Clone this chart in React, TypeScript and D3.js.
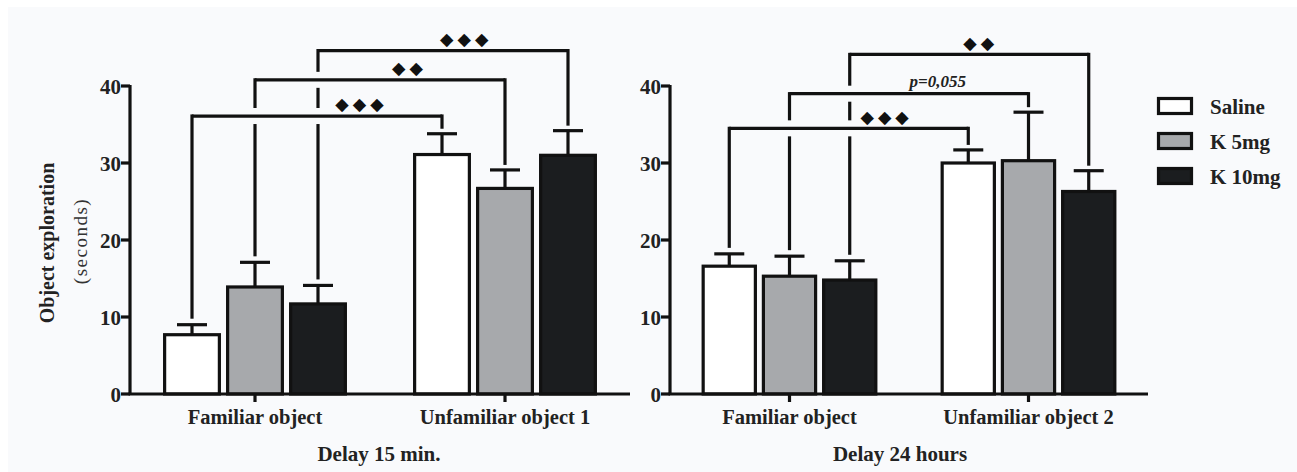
import React from "react";
import * as d3 from "d3";

// ---- data ----
const groups = ["Saline", "K 5mg", "K 10mg"];
const fills = ["#ffffff", "#a7a9ac", "#1b1d1f"];

const panel1Categories = ["Familiar object", "Unfamiliar object 1"];
const panel1Means = [
  [7.7, 13.9, 11.7],
  [31.1, 26.7, 31.0],
];
const panel1Sem = [
  [1.3, 3.2, 2.4],
  [2.7, 2.4, 3.2],
];
const panel1Title = "Delay 15 min.";
const panel1Brackets = [
  { group: 0, level: 36.1, label: "◆◆◆", frac: 0.67 },
  { group: 1, level: 40.8, label: "◆◆", frac: 0.61 },
  { group: 2, level: 44.6, label: "◆◆◆", frac: 0.585 },
];

const panel2Categories = ["Familiar object", "Unfamiliar object 2"];
const panel2Means = [
  [16.6, 15.3, 14.8],
  [30.0, 30.3, 26.3],
];
const panel2Sem = [
  [1.6, 2.6, 2.5],
  [1.7, 6.3, 2.7],
];
const panel2Title = "Delay 24 hours";
const panel2Brackets = [
  { group: 0, level: 34.5, label: "◆◆◆", frac: 0.65 },
  { group: 1, level: 39.0, label: "p=0,055", frac: 0.62 },
  { group: 2, level: 44.1, label: "◆◆", frac: 0.54 },
];

const yTicks = [0, 10, 20, 30, 40];
const yLabel = "Object exploration";
const yUnit = "(seconds)";

// ---- layout ----
const W = 1297;
const H = 472;
const SERIF = "'Liberation Serif', 'Times New Roman', serif";
const SW = 3.2;

type Bracket = { group: number; level: number; label: string; frac: number };

function Panel(props: {
  x0: number;
  x1: number;
  categories: string[];
  means: number[][];
  sem: number[][];
  brackets: Bracket[];
  title: string;
  titleX: number;
}) {
  const { x0, x1, categories, means, sem, brackets, title, titleX } = props;
  const y = d3.scaleLinear().domain([0, 40]).range([394, 86]);
  const x = d3.scalePoint<string>().domain(categories).range([x0, x1]).padding(0.5);
  const step = x.step();
  const pitch = step * 0.252;
  const inner = d3
    .scaleBand<string>()
    .domain(groups)
    .range([-1.5 * pitch, 1.5 * pitch])
    .paddingInner(0.08)
    .paddingOuter(0.04);
  const bw = inner.bandwidth();
  const cx = (ci: number, gi: number) =>
    (x(categories[ci]) as number) + (inner(groups[gi]) as number) + bw / 2;

  const br = brackets.map((b) => {
    const xa = cx(0, b.group);
    const xb = cx(1, b.group);
    const yh = y(b.level);
    const ya = y(means[0][b.group] + sem[0][b.group]) - 6;
    const yb = y(means[1][b.group] + sem[1][b.group]) - 5;
    return { ...b, xa, xb, yh, ya, yb };
  });
  const gap = 8;
  const legSegments = (xv: number, yTop: number, yBot: number, self: number) => {
    const cuts = br
      .filter((o, i) => i !== self && o.xa < xv && o.xb > xv && o.yh > yTop && o.yh < yBot)
      .map((o) => o.yh)
      .sort((a, b) => a - b);
    const segs: [number, number][] = [];
    let cur = yTop;
    cuts.forEach((c) => {
      segs.push([cur, c - gap]);
      cur = c + gap;
    });
    segs.push([cur, yBot]);
    return segs;
  };

  return (
    <g>
      {categories.map((c, ci) =>
        groups.map((g, gi) => {
          const m = means[ci][gi];
          const top = y(m);
          const cxx = cx(ci, gi);
          const et = y(m + sem[ci][gi]);
          return (
            <g key={c + g}>
              <rect
                x={cxx - bw / 2 + SW / 2}
                y={top}
                width={bw - SW}
                height={y(0) - top}
                fill={fills[gi]}
                stroke="#111"
                strokeWidth={SW}
              />
              <line x1={cxx} x2={cxx} y1={top} y2={et} stroke="#111" strokeWidth={SW} />
              <line x1={cxx - 15} x2={cxx + 15} y1={et} y2={et} stroke="#111" strokeWidth={SW} />
            </g>
          );
        })
      )}
      <line x1={x0} x2={x0} y1={y(40) - 1} y2={y(0)} stroke="#111" strokeWidth={SW} />
      <line x1={x0 - 1.5} x2={x1} y1={y(0)} y2={y(0)} stroke="#111" strokeWidth={SW} />
      {yTicks.map((t) => (
        <g key={t}>
          <line x1={x0 - 9} x2={x0} y1={y(t)} y2={y(t)} stroke="#111" strokeWidth={SW} />
          <text
            x={x0 - 9}
            y={y(t)}
            dy="0.36em"
            textAnchor="end"
            fontFamily={SERIF}
            fontWeight="bold"
            fontSize={21}
            fill="#222"
          >
            {t}
          </text>
        </g>
      ))}
      {categories.map((c) => (
        <g key={c}>
          <line
            x1={x(c)}
            x2={x(c)}
            y1={y(0)}
            y2={y(0) + 8}
            stroke="#111"
            strokeWidth={SW}
          />
          <text
            x={x(c)}
            y={424}
            textAnchor="middle"
            fontFamily={SERIF}
            fontWeight="bold"
            fontSize={20.5}
            fill="#222"
          >
            {c}
          </text>
        </g>
      ))}
      <text
        x={titleX}
        y={461}
        textAnchor="middle"
        fontFamily={SERIF}
        fontWeight="bold"
        fontSize={21}
        fill="#222"
      >
        {title}
      </text>
      {br.map((b, i) => (
        <g key={"b" + i}>
          <line x1={b.xa} x2={b.xb} y1={b.yh} y2={b.yh} stroke="#111" strokeWidth={SW} />
          {legSegments(b.xa, b.yh - SW / 2, b.ya, i).map((s, k) => (
            <line key={"l" + k} x1={b.xa} x2={b.xa} y1={s[0]} y2={s[1]} stroke="#111" strokeWidth={SW} />
          ))}
          {legSegments(b.xb, b.yh - SW / 2, b.yb, i).map((s, k) => (
            <line key={"r" + k} x1={b.xb} x2={b.xb} y1={s[0]} y2={s[1]} stroke="#111" strokeWidth={SW} />
          ))}
          {b.label.startsWith("◆") ? (
            <text
              x={b.xa + (b.xb - b.xa) * b.frac + 2}
              y={b.yh - 12}
              dy="0.36em"
              textAnchor="middle"
              fontFamily="'DejaVu Sans', sans-serif"
              fontSize={17.5}
              letterSpacing={4}
              fill="#111"
            >
              {b.label}
            </text>
          ) : (
            <text
              x={b.xa + (b.xb - b.xa) * b.frac}
              y={b.yh - 7}
              textAnchor="middle"
              fontFamily={SERIF}
              fontWeight="bold"
              fontStyle="italic"
              fontSize={17}
              fill="#222"
            >
              {b.label}
            </text>
          )}
        </g>
      ))}
    </g>
  );
}

export default function App() {
  const legendY = d3.scalePoint<string>().domain(groups).range([106, 176]);
  return (
    <svg
      width={W}
      height={H}
      style={{ position: "absolute", left: 0, top: 0, display: "block" }}
    >
      <rect x={0} y={0} width={W} height={H} fill="#ffffff" />
      <rect x={8} y={7} width={W - 8} height={H - 7} fill="#f9fafc" />
      <g transform="translate(47,243) rotate(-90)">
        <text
          textAnchor="middle"
          dy="0.35em"
          fontFamily={SERIF}
          fontWeight="bold"
          fontSize={20}
          fill="#222"
        >
          {yLabel}
        </text>
      </g>
      <g transform="translate(80,241) rotate(-90)">
        <text
          textAnchor="middle"
          dy="0.35em"
          fontFamily={SERIF}
          fontSize={19}
          letterSpacing={1.5}
          fill="#333"
        >
          {yUnit}
        </text>
      </g>
      <Panel
        x0={130}
        x1={630}
        categories={panel1Categories}
        means={panel1Means}
        sem={panel1Sem}
        brackets={panel1Brackets}
        title={panel1Title}
        titleX={379}
      />
      <Panel
        x0={670}
        x1={1148}
        categories={panel2Categories}
        means={panel2Means}
        sem={panel2Sem}
        brackets={panel2Brackets}
        title={panel2Title}
        titleX={900}
      />
      {groups.map((g, i) => (
        <g key={g}>
          <rect
            x={1158.5}
            y={(legendY(g) as number) - 7.5}
            width={33}
            height={15}
            fill={fills[i]}
            stroke="#111"
            strokeWidth={SW}
          />
          <text
            x={1210}
            y={legendY(g) as number}
            dy="0.36em"
            fontFamily={SERIF}
            fontWeight="bold"
            fontSize={21}
            fill="#222"
          >
            {g}
          </text>
        </g>
      ))}
    </svg>
  );
}
